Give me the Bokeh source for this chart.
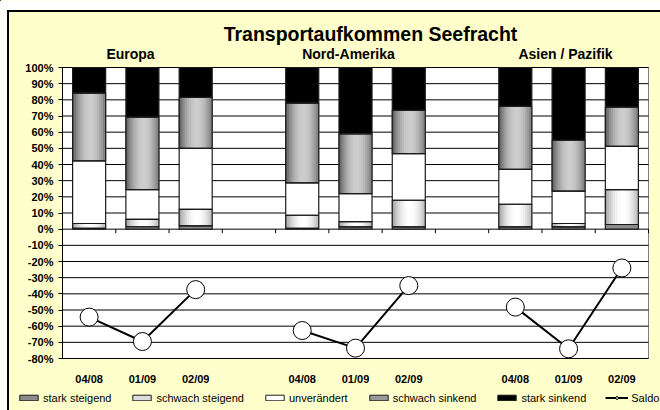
from bokeh.plotting import figure
from bokeh.models import (Range1d, FixedTicker, Label, Legend, LegendItem,
                          ColumnDataSource, LinearAxis)
from bokeh.embed import file_html
from bokeh.resources import INLINE

# ---------------- data ----------------
regions = ["Europa", "Nord-Amerika", "Asien / Pazifik"]
periods = ["04/08", "01/09", "02/09"]
series_names = ["stark steigend", "schwach steigend", "unverändert",
                "schwach sinkend", "stark sinkend"]
stark_steigend   = [0.5, 1.5, 2.0,   0.5, 1.4, 1.4,   1.4, 1.4, 2.9]
schwach_steigend = [3.0, 4.5, 10.3,  8.1, 3.3, 16.5,  14.0, 2.1, 21.6]
unveraendert     = [38.7, 18.5, 37.7, 20.0, 17.3, 28.8, 21.6, 20.0, 26.7]
schwach_sinkend  = [41.9, 44.8, 31.5, 49.4, 37.0, 26.8, 39.0, 31.5, 24.3]
stark_sinkend    = [15.9, 30.7, 18.5, 22.0, 41.0, 26.5, 24.0, 45.0, 24.5]
saldo            = [-54.4, -69.5, -37.4, -62.7, -73.6, -34.9, -48.2, -74.0, -24.0]
y_ticks = list(range(-80, 101, 10))
Y_MIN, Y_MAX = -80, 100

# ---------------- geometry (page pixels -> data units) ----------------
W, H = 660, 410
PLOT_L, PLOT_R, PLOT_T, PLOT_B = 62, 648, 67, 358
n_slots = len(regions) * (len(periods) + 1) - 1
SX = (PLOT_R - PLOT_L) / n_slots
SY = (PLOT_B - PLOT_T) / (Y_MAX - Y_MIN)

def dx(px):
    return (px - PLOT_L) / SX

def dy(py):
    return Y_MAX - (py - PLOT_T) / SY

xs = [g * (len(periods) + 1) + k + 0.5 for g in range(len(regions)) for k in range(len(periods))]
labels = [periods[k] for g in range(len(regions)) for k in range(len(periods))]
BAR_W = 0.62
N_STRIPS = 16
FONT = "Liberation Sans"
YELLOW = "#ffffcc"

def mix(c0, c1, f):
    return "#%02x%02x%02x" % tuple(int(round(a + (b - a) * f)) for a, b in zip(c0, c1))

def cyl(t):
    return max(0.0, 1 - ((t - 0.55) / 0.55) ** 2)

styles = [
    dict(kind="solid", color="#8c8c8c"),
    dict(kind="grad", dark=(150, 150, 150), light=(255, 255, 255)),
    dict(kind="solid", color="#ffffff"),
    dict(kind="grad", dark=(80, 80, 80), light=(205, 205, 205)),
    dict(kind="solid", color="#000000"),
]
series = [stark_steigend, schwach_steigend, unveraendert, schwach_sinkend, stark_sinkend]

p = figure(width=W, height=H,
           x_range=Range1d(dx(0), dx(W)), y_range=Range1d(dy(H), dy(0)),
           output_backend="svg", toolbar_location=None,
           x_axis_location=None, y_axis_location=None,
           min_border_left=0, min_border_right=0, min_border_top=0, min_border_bottom=0)
p.background_fill_color = YELLOW
p.border_fill_color = YELLOW
p.outline_line_color = None
p.xgrid.visible = False
p.ygrid.visible = False

# white margin outside the chart border, and the chart border (left and top sides)
p.quad(left=[dx(0), dx(0)], right=[dx(W), dx(6.5)], top=[dy(0), dy(0)],
       bottom=[dy(9.5), dy(H)], fill_color="white", line_color=None)
p.segment(x0=[dx(7.5), dx(6.5)], x1=[dx(7.5), dx(W)], y0=[dy(H), dy(10.5)],
          y1=[dy(9.5), dy(10.5)], line_color="black", line_width=2)

# plot area
p.quad(left=[0], right=[n_slots], bottom=[Y_MIN], top=[Y_MAX],
       fill_color="white", line_color="#808080", line_width=1)
# horizontal grid lines
p.segment(x0=[0] * len(y_ticks), x1=[n_slots] * len(y_ticks), y0=y_ticks, y1=y_ticks,
          line_color="black", line_width=1)

# stacked bars with cylinder shading
solid = dict(x=[], b=[], t=[], c=[])
strip = dict(x=[], w=[], b=[], t=[], c=[])
outl = dict(x=[], b=[], t=[])
for i, x in enumerate(xs):
    base = 0.0
    for s, st in zip(series, styles):
        top = base + s[i]
        if st["kind"] == "solid":
            solid["x"].append(x); solid["b"].append(base); solid["t"].append(top)
            solid["c"].append(st["color"])
        else:
            for j in range(N_STRIPS):
                tt = (j + 0.5) / N_STRIPS
                strip["x"].append(x - BAR_W / 2 + (j + 0.5) * BAR_W / N_STRIPS)
                strip["w"].append(BAR_W / N_STRIPS * 1.6)
                strip["b"].append(base)
                strip["t"].append(top)
                strip["c"].append(mix(st["dark"], st["light"], cyl(tt)))
        outl["x"].append(x); outl["b"].append(base); outl["t"].append(top)
        base = top

p.vbar(x="x", width=BAR_W, bottom="b", top="t", fill_color="c", line_color=None,
       source=ColumnDataSource(solid))
p.vbar(x="x", width="w", bottom="b", top="t", fill_color="c", line_color=None,
       source=ColumnDataSource(strip))
p.vbar(x="x", width=BAR_W, bottom="b", top="t", fill_color=None, line_color="#1a1a1a",
       line_width=1.2, source=ColumnDataSource(outl))

# small tick marks on the 0% axis of the upper panel (between categories)
bounds = list(range(1, n_slots + 1))
tick_len = 4 / SY
p.segment(x0=bounds, x1=bounds, y0=[0] * len(bounds), y1=[-tick_len] * len(bounds),
          line_color="black", line_width=1)

# Saldo line (one polyline per region)
ml_x = [xs[g * 3:(g + 1) * 3] for g in range(len(regions))]
ml_y = [saldo[g * 3:(g + 1) * 3] for g in range(len(regions))]
p.multi_line(xs=ml_x, ys=ml_y, line_color="black", line_width=2)
p.scatter(x=xs, y=saldo, size=18, marker="circle", fill_color="white",
          line_color="black", line_width=1)

# keep the right margin of the chart area plain
p.quad(left=[dx(650)], right=[dx(W + 5)], top=[dy(11.5)], bottom=[dy(H + 5)],
       fill_color=YELLOW, line_color=None)

# y axis (shared by both panels)
yax = LinearAxis(fixed_location=0, bounds=(Y_MIN, Y_MAX), ticker=FixedTicker(ticks=y_ticks))
yax.major_label_overrides = {t: f"{t}%" for t in y_ticks}
yax.major_label_text_font = FONT
yax.major_label_text_font_style = "bold"
yax.major_label_text_font_size = "11px"
yax.major_label_text_color = "black"
yax.axis_line_color = "black"
yax.major_tick_line_color = "black"
yax.major_tick_out = 4
yax.major_tick_in = 0
yax.minor_tick_line_color = None
yax.major_label_standoff = 5
p.add_layout(yax, "left")

# category labels below the Saldo panel
xax = LinearAxis(fixed_location=Y_MIN, ticker=FixedTicker(ticks=xs))
xax.major_label_overrides = {x: l for x, l in zip(xs, labels)}
xax.major_label_text_font = FONT
xax.major_label_text_font_style = "bold"
xax.major_label_text_font_size = "11px"
xax.major_label_text_color = "black"
xax.axis_line_color = None
xax.major_tick_line_color = None
xax.minor_tick_line_color = None
xax.major_label_standoff = 8
p.add_layout(xax, "below")

# titles
p.add_layout(Label(x=dx(370), y=dy(33), text="Transportaufkommen Seefracht", text_font=FONT,
                   text_font_style="bold", text_font_size="19.5px", text_align="center",
                   text_baseline="middle", text_color="black"))
for px, name in zip([130, 348, 565], regions):
    p.add_layout(Label(x=dx(px), y=dy(53), text=name, text_font=FONT, text_font_style="bold",
                       text_font_size="14px", text_align="center", text_baseline="middle",
                       text_color="black"))

# legend (off-screen one-point renderers carry the legend styling)
off_x, off_y = [dx(-500)], [dy(-500)]
leg_cols = ["#8c8c8c", "#dcdcdc", "#ffffff", "#9a9a9a", "#000000"]
leg_rs = [p.vbar(x=off_x, top=off_y, bottom=off_y, width=0.5, fill_color=c,
                 line_color="#1a1a1a", line_width=1) for c in leg_cols]
l_line = p.line(x=off_x * 2, y=off_y * 2, line_color="black", line_width=2)
l_mark = p.scatter(x=off_x, y=off_y, marker="circle", size=7, fill_color="white",
                   line_color="black")
items = [LegendItem(label=n, renderers=[r]) for n, r in zip(series_names, leg_rs)]
items.append(LegendItem(label="Saldo", renderers=[l_line, l_mark]))
legend = Legend(items=items, orientation="horizontal", location=(17, 6.5),
                glyph_width=23, glyph_height=7, label_standoff=3, spacing=19,
                padding=0, margin=0, label_height=12,
                label_text_font=FONT, label_text_font_size="11px", label_text_color="black",
                background_fill_alpha=0, border_line_color=None)
p.add_layout(legend)

open("out.html", "w").write(file_html(p, INLINE))
